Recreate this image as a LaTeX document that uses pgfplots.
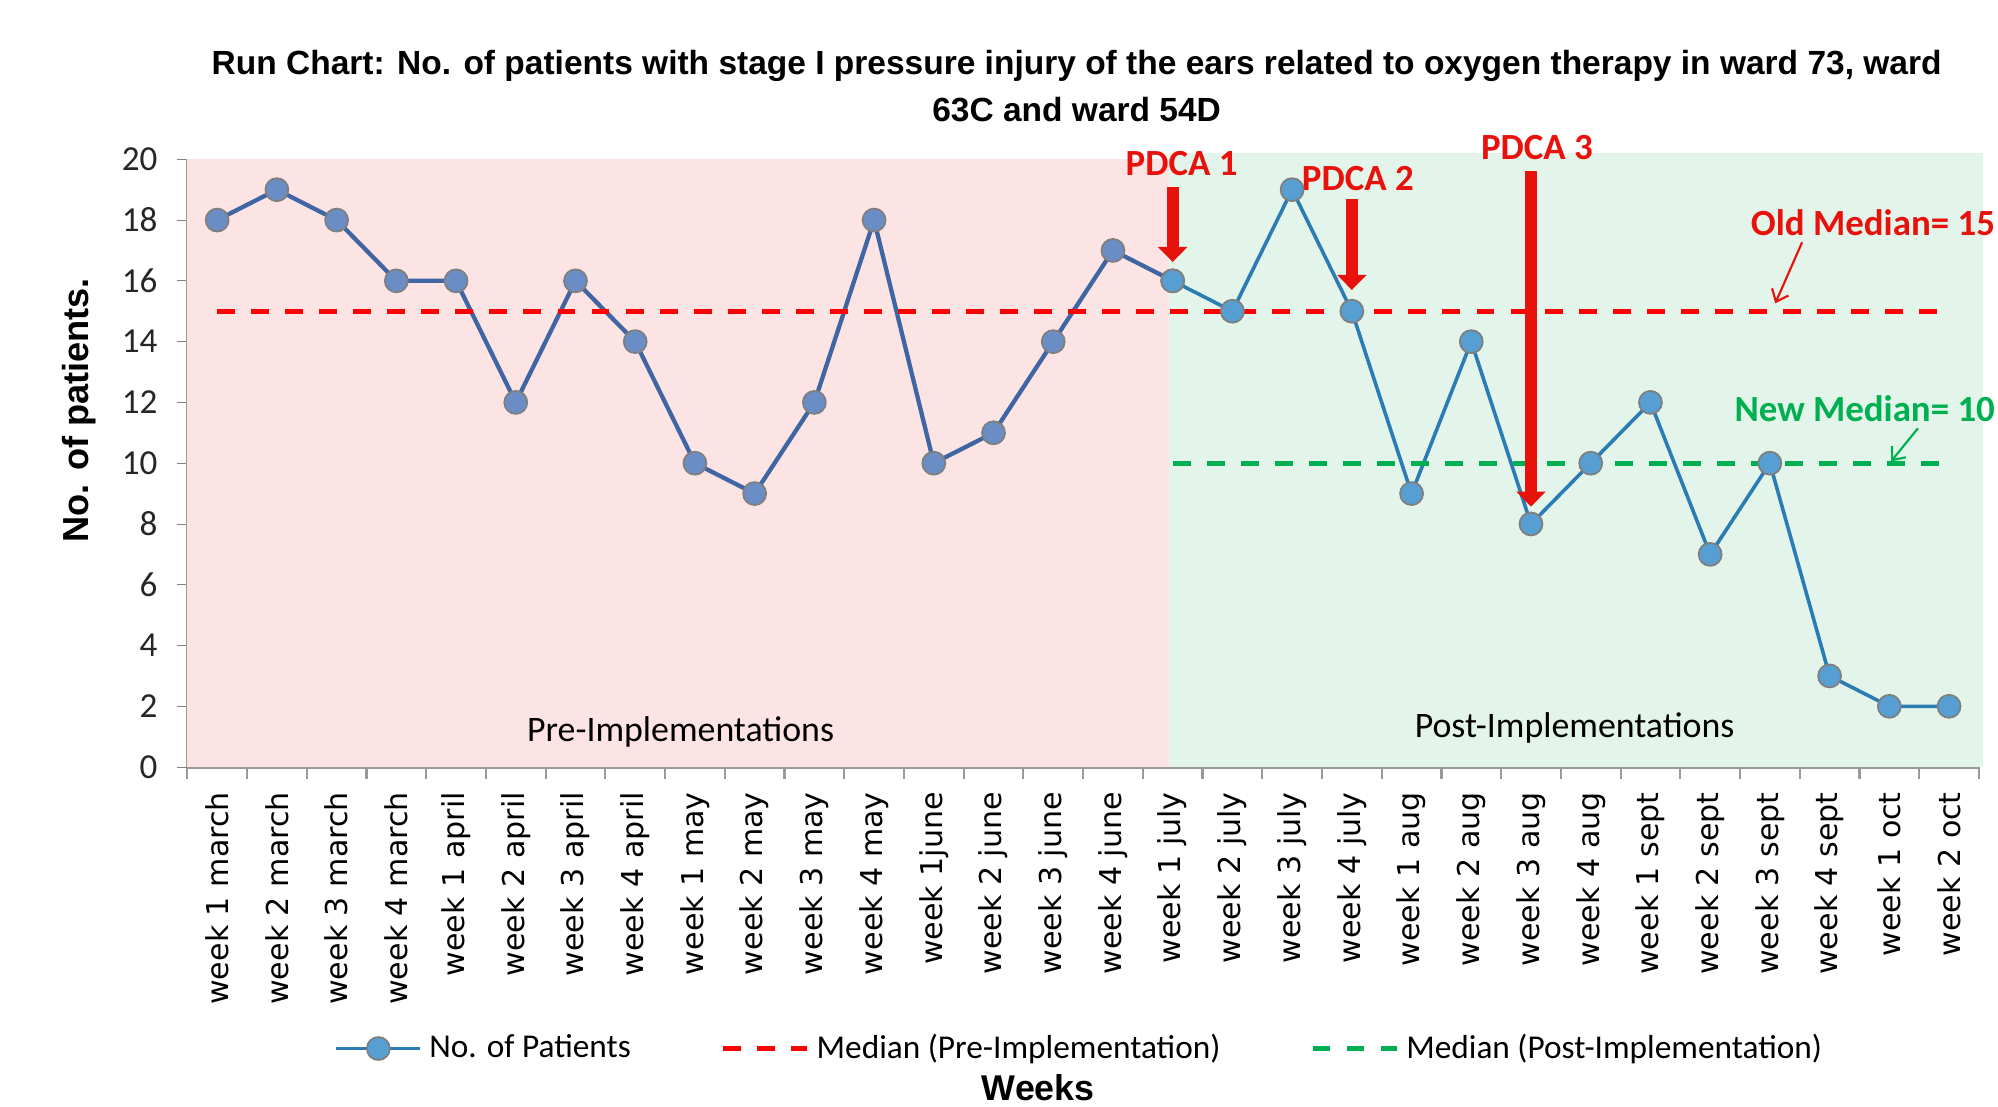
\documentclass[border=0pt]{standalone}
\usepackage{pgfplots}
\pgfplotsset{compat=1.18}
\usepackage{fontspec}
\setmainfont{Carlito}
\newfontfamily\arialfont{Liberation Sans}
\newfontfamily\dejavu{DejaVu Sans}
\usetikzlibrary{arrows.meta}
\definecolor{pinkbg}{HTML}{FDE4E4}
\definecolor{greenbg}{HTML}{E3F5EA}
\definecolor{preline}{HTML}{3F66A3}
\definecolor{premark}{HTML}{6B8DC6}
\definecolor{postline}{HTML}{2B7BB4}
\definecolor{postmark}{HTML}{579FD3}
\definecolor{medred}{HTML}{FF0000}
\definecolor{medgreen}{HTML}{00B050}
\definecolor{pdcared}{HTML}{E8120C}
\definecolor{axgray}{HTML}{9A9A9A}
\definecolor{mkgray}{HTML}{7F7F7F}

\begin{document}
\begin{tikzpicture}
\begin{axis}[
  name=ax,
  scale only axis,
  width=17.575cm, height=5.9625cm,
  xmin=-0.5, xmax=29.5, ymin=0, ymax=20,
  clip=false,
  axis x line*=bottom, axis y line*=left,
  axis line style={axgray, line width=0.8pt, -},
  tick align=outside,
  major tick length=2.8pt,
  /pgf/number format/assume math mode=true,
  ytick={0,2,...,20},
  yticklabel style={font=\fontsize{9.8}{11}\selectfont, text=black!85},
  yticklabel shift=2pt,
  xtick={0,...,29},
  xticklabels={week 1 march, week 2 march, week 3 march, week 4 march,
    week 1 april, week 2 april, week 3 april, week 4 april,
    week 1 may, week 2 may, week 3 may, week 4 may,
    week 1june, week 2 june, week 3 june, week 4 june,
    week 1 july, week 2 july, week 3 july, week 4 july,
    week 1 aug, week 2 aug, week 3 aug, week 4 aug,
    week 1 sept, week 2 sept, week 3 sept, week 4 sept,
    week 1 oct, week 2 oct},
  xticklabel style={font=\dejavu\fontsize{8.4}{10}\selectfont, rotate=90, anchor=east, inner sep=0pt},
  xticklabel shift=4pt,
  major x tick style={draw=none},
  minor xtick={-0.5,0.5,...,29.5},
  minor x tick style={draw=axgray, line width=0.6pt},
  minor tick length=3.2pt,
  legend style={at={(0.4993,-0.463)}, anchor=center, draw=none, fill=none,
    legend columns=3, font=\fontsize{9.3}{11}\selectfont,
    /tikz/every even column/.append style={column sep=23pt}},
  legend image code/.code={\draw[mark repeat=2,mark phase=2,#1] plot coordinates {(0cm,0cm) (0.4125cm,0cm) (0.825cm,0cm)};},
]
% backgrounds
\addplot[draw=none, fill=pinkbg, forget plot] coordinates {(-0.5,20) (15.93,20)} \closedcycle;
\addplot[draw=none, fill=greenbg, forget plot] coordinates {(15.93,20.2) (29.57,20.2)} \closedcycle;

% pre-implementation series
\addplot[preline, line width=1.2pt, mark=*, mark size=3.2pt,
  mark options={fill=premark, draw=mkgray, line width=0.5pt}, forget plot] coordinates {
  (0,18) (1,19) (2,18) (3,16) (4,16) (5,12) (6,16) (7,14) (8,10) (9,9)
  (10,12) (11,18) (12,10) (13,11) (14,14) (15,17) (16,16)};
% post-implementation series
\addplot[postline, line width=1.0pt, mark=*, mark size=3.2pt,
  mark options={fill=postmark, draw=mkgray, line width=0.5pt}] coordinates {
  (16,16) (17,15) (18,19) (19,15) (20,9) (21,14) (22,8) (23,10) (24,12)
  (25,7) (26,10) (27,3) (28,2) (29,2)};
\addlegendentry{No. of Patients}
\addplot[medred, line width=1.4pt, dash pattern=on 5pt off 4.5pt] coordinates {(0,15) (29,15)};
\addlegendentry{Median (Pre-Implementation)}
\addplot[medgreen, line width=1.4pt, dash pattern=on 5pt off 4.5pt] coordinates {(16,10) (29,10)};
\addlegendentry{Median (Post-Implementation)}

% PDCA arrows
\draw[pdcared, line width=3.4pt, -{Triangle[width=8pt,length=4.2pt]}] (axis cs:16,19.09) -- (axis cs:16,16.62);
\draw[pdcared, line width=3.4pt, -{Triangle[width=8pt,length=4.2pt]}] (axis cs:19,18.7) -- (axis cs:19,15.7);
\draw[pdcared, line width=3.4pt, -{Triangle[width=8pt,length=4.2pt]}] (axis cs:22,19.62) -- (axis cs:22,8.57);
\node[text=pdcared, font=\bfseries\fontsize{10.3}{12}\selectfont] at (axis cs:16.15,19.87) {PDCA 1};
\node[text=pdcared, font=\bfseries\fontsize{10.3}{12}\selectfont] at (axis cs:19.1,19.37) {PDCA 2};
\node[text=pdcared, font=\bfseries\fontsize{10.3}{12}\selectfont] at (axis cs:22.1,20.38) {PDCA 3};

% median notes
\node[text=pdcared, font=\bfseries\fontsize{10.3}{12}\selectfont, anchor=east, inner sep=0pt] at (axis cs:29.78,17.9) {Old Median= 15};
\draw[pdcared, line width=0.6pt, -{Straight Barb[length=3pt,width=5pt]}] (axis cs:26.54,17.27) -- (axis cs:26.09,15.26);
\node[text=medgreen, font=\bfseries\fontsize{10.3}{12}\selectfont, anchor=east, inner sep=0pt] at (axis cs:29.78,11.78) {New Median= 10};
\draw[medgreen, line width=0.6pt, -{Straight Barb[length=3pt,width=5pt]}] (axis cs:28.48,11.15) -- (axis cs:28.03,10.06);

% region labels
\node[font=\fontsize{10}{12}\selectfont] at (axis cs:7.76,1.17) {Pre-Implementations};
\node[font=\fontsize{10}{12}\selectfont] at (axis cs:22.73,1.3) {Post-Implementations};

% titles and axis labels
\node[font=\arialfont\bfseries\fontsize{9.35}{11}\selectfont] at (axis description cs:0.4964,1.153)
  {Run Chart: No. of patients with stage I pressure injury of the ears related to oxygen therapy in ward 73, ward};
\node[font=\arialfont\bfseries\fontsize{9.35}{11}\selectfont] at (axis description cs:0.4964,1.082)
  {63C and ward 54D};
\node[font=\arialfont\bfseries\fontsize{10.1}{12}\selectfont, rotate=90] at (axis description cs:-0.0605,0.587)
  {No. of patients.};
\node[font=\arialfont\bfseries\fontsize{10}{12}\selectfont] at (axis description cs:0.475,-0.527) {Weeks};
\end{axis}
\pgfresetboundingbox
\path (-1.8375cm,-3.325cm) rectangle (17.7625cm,7.525cm);
\end{tikzpicture}
\end{document}
